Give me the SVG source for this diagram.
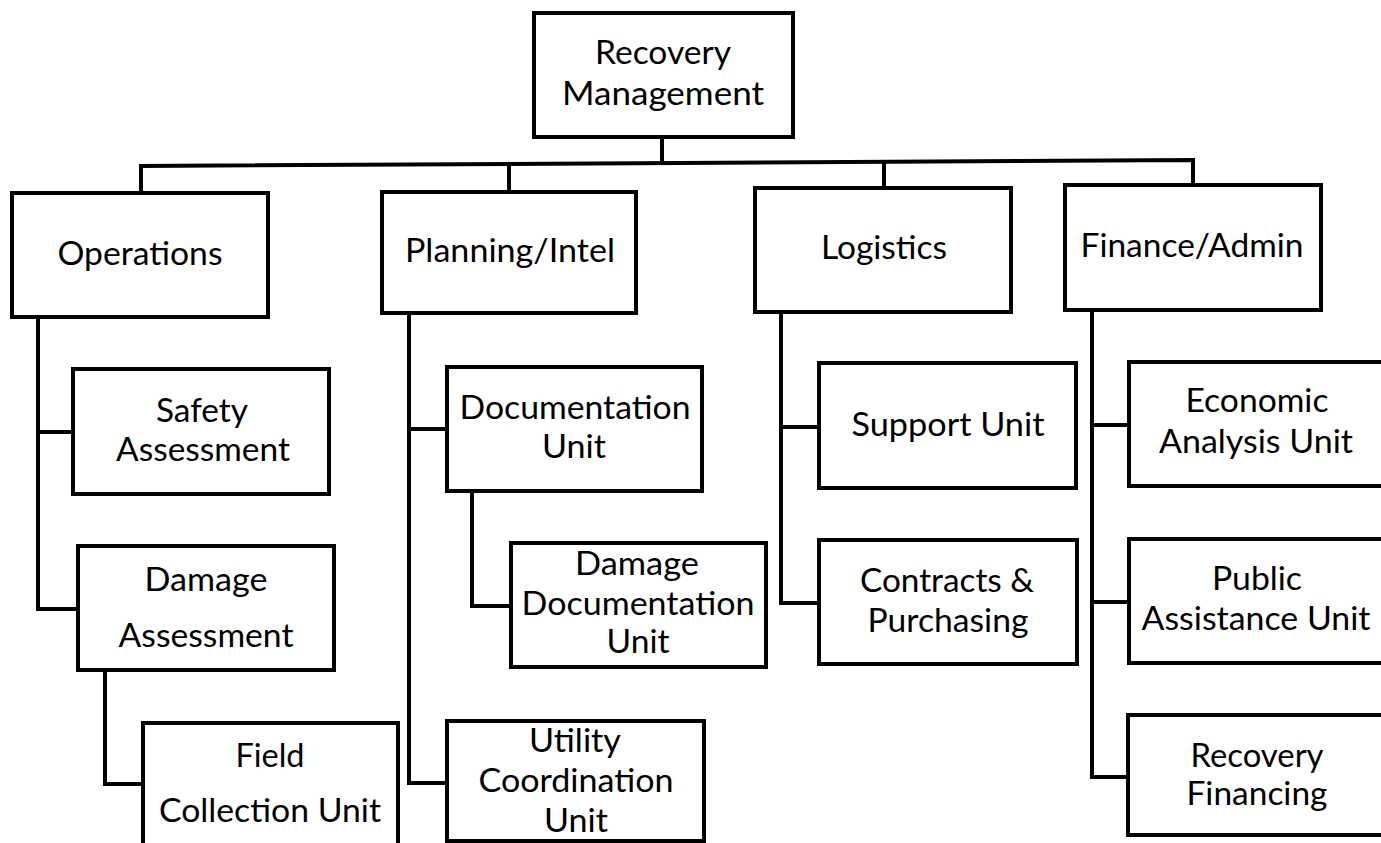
<svg xmlns="http://www.w3.org/2000/svg" width="1381" height="843" viewBox="0 0 1381 843">
  <style>
    .box { fill: #ffffff; stroke: #000000; stroke-width: 4; }
    .wire { fill: none; stroke: #000000; stroke-width: 4; stroke-linejoin: miter; stroke-linecap: square; }
    .label { font-family: Lato, "Open Sans", "Liberation Sans", sans-serif; font-size: 32px; fill: #000000; text-anchor: middle; }
  </style>
  <rect width="1381" height="843" fill="#ffffff"/>

  <!-- connectors -->
  <g id="connectors" class="wire">
    <!-- top bus -->
    <polyline points="141,193 141,166 1193,160 1193,185"/>
    <line x1="662" y1="137" x2="662" y2="163"/>
    <line x1="509" y1="164" x2="509" y2="192"/>
    <line x1="884" y1="162" x2="884" y2="188"/>
    <!-- Operations branch -->
    <polyline points="38,317 38,609 78,609"/>
    <line x1="38" y1="432" x2="73" y2="432"/>
    <polyline points="105,670 105,784 143,784"/>
    <!-- Planning/Intel branch -->
    <polyline points="409,313 409,783 447,783"/>
    <line x1="409" y1="429" x2="447" y2="429"/>
    <polyline points="472,491 472,606 511,606"/>
    <!-- Logistics branch -->
    <polyline points="781,312 781,603 819,603"/>
    <line x1="781" y1="427" x2="819" y2="427"/>
    <!-- Finance/Admin branch -->
    <polyline points="1092,310 1092,777 1128,777"/>
    <line x1="1092" y1="425" x2="1129" y2="425"/>
    <line x1="1092" y1="602" x2="1129" y2="602"/>
  </g>

  <g id="recovery-management">
    <rect class="box" x="534" y="13" width="259" height="124"/>
    <text class="label" x="663" y="64" textLength="136" lengthAdjust="spacingAndGlyphs">Recovery</text>
    <text class="label" x="663" y="105" textLength="202" lengthAdjust="spacingAndGlyphs">Management</text>
  </g>

  <g id="operations">
    <rect class="box" x="12" y="193" width="256" height="124"/>
    <text class="label" x="140" y="265" textLength="165" lengthAdjust="spacingAndGlyphs">Operations</text>
  </g>

  <g id="planning-intel">
    <rect class="box" x="382" y="192" width="254" height="121"/>
    <text class="label" x="510" y="262" textLength="210" lengthAdjust="spacingAndGlyphs">Planning/Intel</text>
  </g>

  <g id="logistics">
    <rect class="box" x="755" y="188" width="256" height="124"/>
    <text class="label" x="884" y="259" textLength="126" lengthAdjust="spacingAndGlyphs">Logistics</text>
  </g>

  <g id="finance-admin">
    <rect class="box" x="1065" y="185" width="256" height="125"/>
    <text class="label" x="1192" y="257" textLength="223" lengthAdjust="spacingAndGlyphs">Finance/Admin</text>
  </g>

  <g id="safety-assessment">
    <rect class="box" x="73" y="369" width="256" height="125"/>
    <text class="label" x="202" y="422" textLength="92" lengthAdjust="spacingAndGlyphs">Safety</text>
    <text class="label" x="203" y="461" textLength="174" lengthAdjust="spacingAndGlyphs">Assessment</text>
  </g>

  <g id="damage-assessment">
    <rect class="box" x="78" y="546" width="256" height="124"/>
    <text class="label" x="206" y="591" textLength="123" lengthAdjust="spacingAndGlyphs">Damage</text>
    <text class="label" x="206" y="647" textLength="175" lengthAdjust="spacingAndGlyphs">Assessment</text>
  </g>

  <g id="field-collection-unit">
    <rect class="box" x="143" y="723" width="255" height="140"/>
    <text class="label" x="270" y="767" textLength="69" lengthAdjust="spacingAndGlyphs">Field</text>
    <text class="label" x="270" y="822" textLength="222" lengthAdjust="spacingAndGlyphs">Collection Unit</text>
  </g>

  <g id="documentation-unit">
    <rect class="box" x="447" y="367" width="255" height="124"/>
    <text class="label" x="575" y="419" textLength="231" lengthAdjust="spacingAndGlyphs">Documentation</text>
    <text class="label" x="574" y="458" textLength="64" lengthAdjust="spacingAndGlyphs">Unit</text>
  </g>

  <g id="damage-documentation-unit">
    <rect class="box" x="511" y="543" width="255" height="124"/>
    <text class="label" x="637" y="575" textLength="124" lengthAdjust="spacingAndGlyphs">Damage</text>
    <text class="label" x="638" y="615" textLength="233" lengthAdjust="spacingAndGlyphs">Documentation</text>
    <text class="label" x="638" y="653" textLength="63" lengthAdjust="spacingAndGlyphs">Unit</text>
  </g>

  <g id="utility-coordination-unit">
    <rect class="box" x="447" y="721" width="257" height="120"/>
    <text class="label" x="575" y="752" textLength="92" lengthAdjust="spacingAndGlyphs">Utility</text>
    <text class="label" x="576" y="792" textLength="195" lengthAdjust="spacingAndGlyphs">Coordination</text>
    <text class="label" x="576" y="832" textLength="64" lengthAdjust="spacingAndGlyphs">Unit</text>
  </g>

  <g id="support-unit">
    <rect class="box" x="819" y="363" width="257" height="125"/>
    <text class="label" x="948" y="436" textLength="193" lengthAdjust="spacingAndGlyphs">Support Unit</text>
  </g>

  <g id="contracts-purchasing">
    <rect class="box" x="819" y="540" width="258" height="124"/>
    <text class="label" x="947" y="592" textLength="174" lengthAdjust="spacingAndGlyphs">Contracts &amp;</text>
    <text class="label" x="948" y="632" textLength="161" lengthAdjust="spacingAndGlyphs">Purchasing</text>
  </g>

  <g id="economic-analysis-unit">
    <rect class="box" x="1129" y="362" width="270" height="124"/>
    <text class="label" x="1257" y="412" textLength="143" lengthAdjust="spacingAndGlyphs">Economic</text>
    <text class="label" x="1256" y="453" textLength="194" lengthAdjust="spacingAndGlyphs">Analysis Unit</text>
  </g>

  <g id="public-assistance-unit">
    <rect class="box" x="1129" y="539" width="270" height="124"/>
    <text class="label" x="1257" y="590" textLength="90" lengthAdjust="spacingAndGlyphs">Public</text>
    <text class="label" x="1256" y="630" textLength="229" lengthAdjust="spacingAndGlyphs">Assistance Unit</text>
  </g>

  <g id="recovery-financing">
    <rect class="box" x="1128" y="715" width="271" height="120"/>
    <text class="label" x="1257" y="767" textLength="133" lengthAdjust="spacingAndGlyphs">Recovery</text>
    <text class="label" x="1257" y="805" textLength="141" lengthAdjust="spacingAndGlyphs">Financing</text>
  </g>
</svg>
